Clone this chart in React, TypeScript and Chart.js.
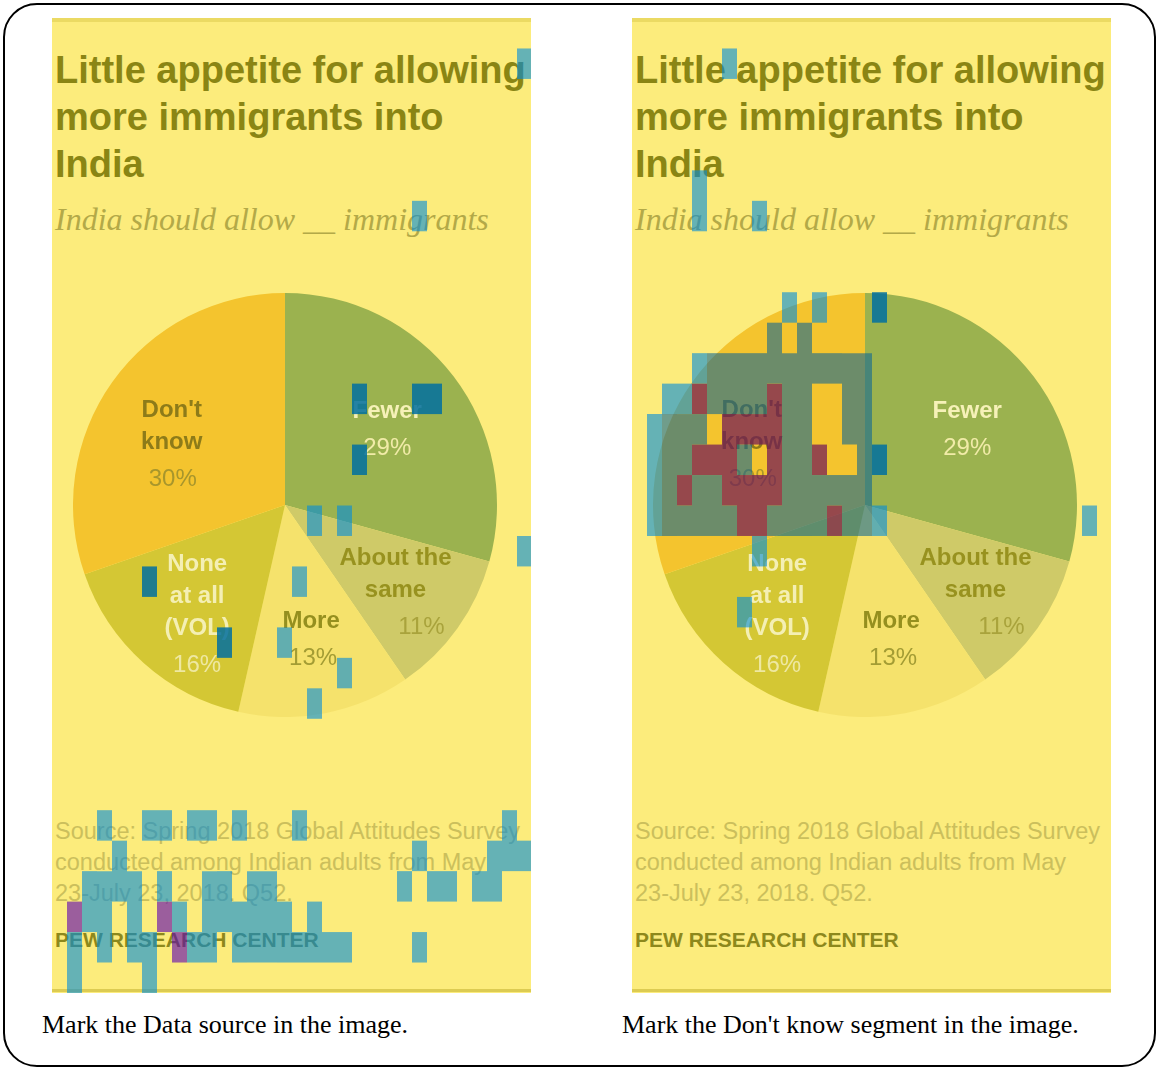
import React, { useEffect, useRef } from "react";
import { Chart, registerables } from "chart.js";

Chart.register(...registerables);

// ---------------- data ----------------
const categories = ["Fewer", "About the same", "More", "None at all (VOL)", "Don't know"];
const shares = [29, 11, 13, 16, 30];
const sliceLabelLines = [["Fewer"], ["About the", "same"], ["More"], ["None", "at all", "(VOL)"], ["Don't", "know"]];
const percentLabels = ["29%", "11%", "13%", "16%", "30%"];

const titleLines = ["Little appetite for allowing", "more immigrants into", "India"];
const subtitleText = "India should allow __ immigrants";
const sourceLines = [
  "Source: Spring 2018 Global Attitudes Survey",
  "conducted among Indian adults from May",
  "23-July 23, 2018. Q52.",
];
const creditText = "PEW RESEARCH CENTER";
const captionTexts = ["Mark the Data source in the image.", "Mark the Don't know segment in the image."];

// attention overlay: 32 x 32 grid over each panel, cells as [column, row]
const GRID_COLS = 32;
const GRID_ROWS = 32;

const leftLightCells = [
  [31, 1], [24, 6], [17, 16], [19, 16], [31, 17], [16, 18], [15, 20], [19, 21], [17, 22],
  [3, 26], [6, 26], [7, 26], [9, 26], [10, 26], [12, 26], [16, 26], [30, 26],
  [4, 27], [24, 27], [29, 27], [30, 27], [31, 27],
  [2, 28], [3, 28], [4, 28], [5, 28], [7, 28], [10, 28], [11, 28], [13, 28], [14, 28], [23, 28], [25, 28], [26, 28], [28, 28], [29, 28],
  [2, 29], [3, 29], [5, 29], [8, 29], [10, 29], [11, 29], [12, 29], [13, 29], [14, 29], [15, 29], [17, 29],
  [1, 30], [3, 30], [5, 30], [6, 30], [9, 30], [10, 30], [12, 30], [13, 30], [14, 30], [15, 30], [16, 30], [17, 30], [18, 30], [19, 30], [24, 30],
  [1, 31], [6, 31],
];
const leftDarkCells = [[20, 12], [24, 12], [25, 12], [20, 14], [6, 18], [11, 20]];
const leftPurpleCells = [[1, 29], [7, 29], [8, 30]];

const rightLightCells = [
  [6, 1], [4, 5], [4, 6], [8, 6], [10, 9], [12, 9], [4, 11], [2, 12], [3, 12],
  [1, 13], [1, 14], [1, 15], [1, 16], [16, 16], [8, 17], [7, 19], [30, 16],
];
const rightDarkCells = [[16, 9], [16, 14]];
const rightMassCells = [
  [9, 10], [11, 10],
  [5, 11], [6, 11], [7, 11], [8, 11], [9, 11], [10, 11], [11, 11], [12, 11], [13, 11], [14, 11], [15, 11],
  [5, 12], [6, 12], [7, 12], [8, 12], [10, 12], [11, 12], [14, 12], [15, 12],
  [2, 13], [3, 13], [4, 13], [10, 13], [11, 13], [14, 13], [15, 13],
  [2, 14], [3, 14], [7, 14], [10, 14], [11, 14], [15, 14],
  [2, 15], [4, 15], [5, 15], [10, 15], [11, 15], [12, 15], [13, 15], [14, 15], [15, 15],
  [2, 16], [3, 16], [4, 16], [5, 16], [6, 16], [9, 16], [10, 16], [11, 16], [12, 16], [14, 16], [15, 16],
];
const rightRedCells = [
  [4, 12], [9, 12],
  [6, 13], [7, 13], [8, 13], [9, 13],
  [4, 14], [5, 14], [6, 14], [9, 14], [12, 14],
  [3, 15], [6, 15], [7, 15], [8, 15], [9, 15],
  [7, 16], [8, 16], [13, 16],
];

// ---------------- styles ----------------
const PANEL_BG = "#fcec7c";
const sliceColors = ["#9bb24f", "#cfca68", "#f5e26c", "#d4c734", "#f4c42e"];
const labelColors = ["#f6f1b8", "#98921f", "#958f1f", "#f4efb4", "#8d7b19"];
const percentColors = ["#f1eba8", "#a9a33c", "#a39c34", "#eee8a2", "#a8962c"];
const labelRadius = [0.6, 0.663, 0.65, 0.664, 0.598];
const labelNudge = [[1, 2], [-4, 6], [0, 0], [6, 5], [-10, 13]];
const percentShift = [0, 26, 2, 0, 1];
const SANS = '"Liberation Sans", Arial, sans-serif';
const SERIF = '"Liberation Serif", "Times New Roman", serif';

const OV_LIGHT = "rgba(0,140,220,0.6)";
const OV_DARK = "rgba(0,110,160,0.85)";
const OV_PURPLE = "rgba(90,0,180,0.6)";
const OV_MASS = "rgba(10,100,150,0.58)";
const OV_RED = "rgba(110,20,90,0.7)";

function toRuns(cells: number[][]) {
  const byCol = new Map<number, number[]>();
  for (const [c, r] of cells) {
    if (!byCol.has(c)) byCol.set(c, []);
    byCol.get(c)!.push(r);
  }
  const out: { x: string; y: number[] }[] = [];
  byCol.forEach((rows, c) => {
    rows.sort((a, b) => a - b);
    let s = rows[0];
    let p = rows[0];
    for (let i = 1; i < rows.length; i++) {
      if (rows[i] === p + 1) p = rows[i];
      else {
        out.push({ x: String(c), y: [s, p + 1] });
        s = p = rows[i];
      }
    }
    out.push({ x: String(c), y: [s, p + 1] });
  });
  return out;
}

const sliceLabelPlugin = {
  id: "sliceLabels",
  afterDatasetsDraw(chart: any) {
    const ctx = chart.ctx;
    const meta = chart.getDatasetMeta(0);
    ctx.save();
    ctx.textAlign = "center";
    ctx.textBaseline = "middle";
    meta.data.forEach((arc: any, i: number) => {
      const p = arc.getProps(["x", "y", "startAngle", "endAngle", "outerRadius"], true);
      const mid = (p.startAngle + p.endAngle) / 2;
      const r = p.outerRadius * labelRadius[i];
      const cx = p.x + Math.cos(mid) * r + labelNudge[i][0];
      const cy = p.y + Math.sin(mid) * r + labelNudge[i][1];
      const lines = sliceLabelLines[i];
      const n = lines.length;
      const total = (n - 1) * 32 + 37;
      const start = cy - total / 2;
      ctx.font = `bold 24px ${SANS}`;
      ctx.fillStyle = labelColors[i];
      lines.forEach((t, k) => ctx.fillText(t, cx, start + 32 * k));
      ctx.font = `24px ${SANS}`;
      ctx.fillStyle = percentColors[i];
      ctx.fillText(percentLabels[i], cx + percentShift[i], start + (n - 1) * 32 + 37);
    });
    ctx.restore();
  },
};

type Layer = { cells: number[][]; color: string };

function Panel({ left, layers }: { left: number; layers: Layer[] }) {
  const pieRef = useRef<HTMLCanvasElement>(null);
  const ovRef = useRef<HTMLCanvasElement>(null);

  useEffect(() => {
    const pie = new Chart(pieRef.current!, {
      type: "pie",
      data: {
        labels: categories,
        datasets: [
          {
            data: shares,
            backgroundColor: sliceColors,
            borderWidth: 0,
            hoverOffset: 0,
            offset: 0,
          },
        ],
      },
      options: {
        responsive: false,
        animation: false,
        devicePixelRatio: 1,
        events: [],
        layout: { padding: 0 },
        plugins: { legend: { display: false }, tooltip: { enabled: false } },
      },
      plugins: [sliceLabelPlugin],
    } as any);

    const colLabels = Array.from({ length: GRID_COLS }, (_, i) => String(i));
    const ov = new Chart(ovRef.current!, {
      type: "bar",
      data: {
        labels: colLabels,
        datasets: layers.map((l) => ({
          data: toRuns(l.cells),
          backgroundColor: l.color,
          borderWidth: 0,
          borderSkipped: false,
          grouped: false,
          barPercentage: 1,
          categoryPercentage: 1,
          inflateAmount: 0,
        })),
      },
      options: {
        responsive: false,
        animation: false,
        devicePixelRatio: 1,
        events: [],
        layout: { padding: 0 },
        scales: {
          x: { type: "category", display: false, offset: true },
          y: { type: "linear", display: false, min: 0, max: GRID_ROWS, reverse: true },
        },
        plugins: { legend: { display: false }, tooltip: { enabled: false } },
      },
    } as any);

    return () => {
      pie.destroy();
      ov.destroy();
    };
  }, []);

  return (
    <div
      style={{
        position: "absolute",
        left,
        top: 18,
        width: 479,
        height: 975,
        background: PANEL_BG,
        overflow: "hidden",
      }}
    >
      <div style={{ position: "absolute", left: 0, top: 0, width: 479, height: 4, background: "#ebda63" }} />
      <div style={{ position: "absolute", left: 0, top: 971, width: 479, height: 3, background: "#dccb52" }} />
      <div
        style={{
          position: "absolute",
          left: 3,
          top: 29,
          font: `bold 38px/47px ${SANS}`,
          color: "#8a8514",
          whiteSpace: "nowrap",
        }}
      >
        {titleLines.map((t, i) => (
          <div key={i}>{t}</div>
        ))}
      </div>
      <div
        style={{
          position: "absolute",
          left: 3,
          top: 183,
          font: `italic 32px/36px ${SERIF}`,
          color: "#b3a948",
          whiteSpace: "nowrap",
        }}
      >
        {subtitleText}
      </div>
      <canvas
        ref={pieRef}
        width={424}
        height={424}
        style={{ position: "absolute", left: 21, top: 275, width: 424, height: 424 }}
      />
      <div
        style={{
          position: "absolute",
          left: 3,
          top: 798,
          font: `23.5px/31px ${SANS}`,
          color: "#cbbf5c",
          whiteSpace: "nowrap",
        }}
      >
        {sourceLines.map((t, i) => (
          <div key={i}>{t}</div>
        ))}
      </div>
      <div
        style={{
          position: "absolute",
          left: 3,
          top: 910,
          font: `bold 21px/24px ${SANS}`,
          color: "#8d881c",
          whiteSpace: "nowrap",
        }}
      >
        {creditText}
      </div>
      <canvas
        ref={ovRef}
        width={480}
        height={975}
        style={{ position: "absolute", left: 0, top: 0, width: 480, height: 975 }}
      />
    </div>
  );
}

export default function App() {
  return (
    <div
      style={{
        position: "absolute",
        left: 0,
        top: 0,
        width: 1159,
        height: 1070,
        background: "#ffffff",
        overflow: "hidden",
      }}
    >
      <div
        style={{
          position: "absolute",
          left: 3,
          top: 3,
          width: 1153,
          height: 1064,
          border: "2px solid #000",
          borderRadius: 34,
          boxSizing: "border-box",
        }}
      />
      <Panel
        left={52}
        layers={[
          { cells: leftLightCells, color: OV_LIGHT },
          { cells: leftDarkCells, color: OV_DARK },
          { cells: leftPurpleCells, color: OV_PURPLE },
        ]}
      />
      <Panel
        left={632}
        layers={[
          { cells: rightLightCells, color: OV_LIGHT },
          { cells: rightDarkCells, color: OV_DARK },
          { cells: rightMassCells, color: OV_MASS },
          { cells: rightRedCells, color: OV_RED },
        ]}
      />
      {captionTexts.map((t, i) => (
        <div
          key={i}
          style={{
            position: "absolute",
            left: i === 0 ? 42 : 622,
            top: 1010,
            font: `26px/30px ${SERIF}`,
            color: "#000",
            whiteSpace: "nowrap",
          }}
        >
          {t}
        </div>
      ))}
    </div>
  );
}
